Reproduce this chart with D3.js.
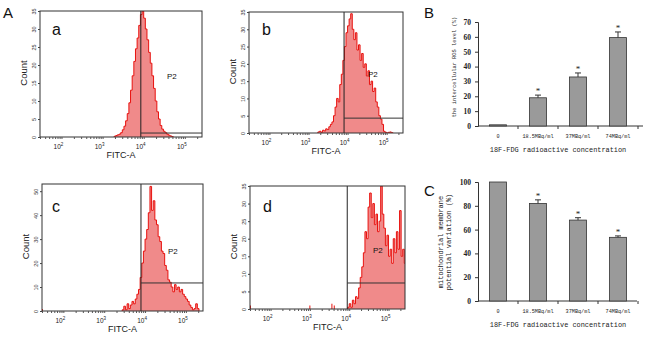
<!DOCTYPE html>
<html>
<head>
<meta charset="utf-8">
<script src="https://cdn.jsdelivr.net/npm/d3@7"></script>
<style>
  body { margin: 0; background: #fff; }
  svg { display: block; }
</style>
</head>
<body>
<div id="chart"></div>
<script>
// Flow cytometry histograms (A a-d) + ROS / MMP bar charts (B, C).

// --- histogram data: counts per bin, bins are 0.04 decades of FITC-A (log10) ---
const binStep = 0.04;
const histLabels = ["a", "b", "c", "d"];
const histStarts = [3.28, 3.24, 3.44, 3.96];
const aCounts = [0.2, 0.4, 0.6, 0.8, 1.2, 2, 3, 4.5, 6.5, 9.5, 13, 17, 21, 24.5, 27.5, 31, 34, 35,
  33, 30, 27, 23.5, 20.5, 17, 13.5, 10, 7, 5, 3.2, 2.2, 1.6, 1.2, 0.8, 0.5, 0.3, 0.1];
const bCounts = [0.3, 0.5, 0.2, 0.8, 0.6, 1.2, 1, 1.8, 2.5, 3.2, 5, 7.5, 10, 9, 14, 17, 21, 25, 29,
  31, 33, 34.5, 30, 27, 29, 24, 25.5, 21, 23, 19, 20, 16.5, 18, 14, 15, 12, 13, 9, 7.5, 5, 4,
  2.5, 0.5, 0.2, 0, 0.2, 0.3, 0.1];
const cCounts = [0.5, 2, 0.5, 3, 1, 2.5, 4, 3, 5, 7, 9, 14, 20, 25, 30, 34, 41, 52, 42, 46, 38, 36,
  31, 29, 25, 24, 19, 17, 13, 12, 10, 8, 11, 9, 10, 8, 9, 7, 6, 5, 4, 2.5, 1.5, 0.5, 1, 3, 1];
const dCounts = [0.5, 1.5, 0.5, 2.5, 1.5, 3.5, 3, 6, 9, 12, 16, 22, 20, 29, 33, 26, 30, 24, 27,
  22, 25, 35, 27, 23, 18, 21, 15, 17, 13, 20, 16, 22, 17, 28, 15, 17, 13];
const histCounts = [aCounts, bCounts, cCounts, dCounts];
// isolated single events [log10 FITC-A, count]
const histSpikes = [[], [], [[1.49, 0.8]], [[1.49, 1], [3.0, 1], [3.56, 1.5], [3.62, 1]]];
const histYMax = [35, 35, 53, 35];
const histYStep = [5, 5, 10, 5];
const gateLogs = [3.93, 3.91, 3.9, 3.95];
const gateCounts = [1.1, 4.3, 11.7, 7.4];
const decadeExps = [2, 3, 4, 5];

// --- bar chart data ---
const concCats = ["0", "18.5MBq/ml", "37MBq/ml", "74MBq/ml"];
const rosMeans = [0.8, 19, 33, 59.5];
const rosErrs = [0, 1.8, 2.7, 3.8];
const mmpMeans = [100, 82, 68, 53.5];
const mmpErrs = [0, 3, 2, 1.2];
const starred = [false, true, true, true];
const rosTicks = [0, 10, 20, 30, 40, 50, 60, 70];
const mmpTicks = [0, 20, 40, 60, 80, 100];

const svg = d3.select("#chart").append("svg").attr("width", 650).attr("height", 339);
const SANS = "'Liberation Sans', Arial, sans-serif";
const MONO = "'Liberation Mono', monospace";
const SERIF = "'Liberation Serif', serif";

// big figure letters
[["A", 3, 18], ["B", 424, 18], ["C", 424, 196]].forEach(([t, x, y]) => {
  svg.append("text").attr("x", x).attr("y", y).attr("font-family", SANS)
    .attr("font-size", 15).attr("fill", "#111").text(t);
});

// ---------- histograms ----------
const boxes = [
  { l: 40, r: 202, t: 11, b: 137, letter: [52, 35], p2: [167, 79] },
  { l: 249, r: 403, t: 12, b: 133, letter: [262, 35], p2: [368, 77] },
  { l: 42, r: 203, t: 184, b: 311, letter: [52, 212], p2: [168, 254] },
  { l: 250, r: 405, t: 186, b: 309, letter: [263, 212], p2: [373, 253] },
];

const logTicks = [];
for (let e = 1; e <= 5; e++) for (let m = 1; m <= 9; m++) {
  const v = m * Math.pow(10, e);
  if (v >= 30 && v <= 262144) logTicks.push(v);
}

histLabels.forEach((lab, i) => {
  const bx = boxes[i];
  const g = svg.append("g");
  const x = d3.scaleLog().domain([30, 262144]).range([bx.l, bx.r]);
  const y = d3.scaleLinear().domain([0, histYMax[i]]).range([bx.b, bx.t]);

  const clipId = "clip" + lab;
  g.append("clipPath").attr("id", clipId).append("rect")
    .attr("x", bx.l).attr("y", bx.t).attr("width", bx.r - bx.l).attr("height", bx.b - bx.t);

  const start = histStarts[i], counts = histCounts[i];
  const pts = [{ lg: start, c: 0 }]
    .concat(counts.map((c, k) => ({ lg: start + k * binStep, c })))
    .concat([{ lg: start + counts.length * binStep, c: 0 }]);

  const area = d3.area()
    .x(d => x(Math.pow(10, d.lg)))
    .y0(y(0)).y1(d => y(d.c))
    .curve(d3.curveStepAfter);
  const line = d3.line()
    .x(d => x(Math.pow(10, d.lg)))
    .y(d => y(d.c))
    .curve(d3.curveStepAfter);

  const hg = g.append("g").attr("clip-path", `url(#${clipId})`);
  hg.append("path").datum(pts).attr("d", area).attr("fill", "#f08a8a");
  hg.append("path").datum(pts).attr("d", line).attr("fill", "none")
    .attr("stroke", "#e8120f").attr("stroke-width", 1);
  hg.selectAll("line.spike").data(histSpikes[i]).join("line").attr("class", "spike")
    .attr("x1", d => x(Math.pow(10, d[0]))).attr("x2", d => x(Math.pow(10, d[0])))
    .attr("y1", y(0)).attr("y2", d => y(d[1]))
    .attr("stroke", "#e8120f").attr("stroke-width", 1);

  // gate P2
  const gx = x(Math.pow(10, gateLogs[i]));
  g.append("line").attr("x1", gx).attr("x2", gx).attr("y1", bx.t).attr("y2", bx.b)
    .attr("stroke", "#222").attr("stroke-width", 1);
  g.append("line").attr("x1", gx).attr("x2", bx.r).attr("y1", y(gateCounts[i])).attr("y2", y(gateCounts[i]))
    .attr("stroke", "#333").attr("stroke-width", 1);
  g.append("text").attr("x", bx.p2[0]).attr("y", bx.p2[1]).attr("font-family", SANS)
    .attr("font-size", 8).attr("fill", "#111").text("P2");

  // frame
  g.append("rect").attr("x", bx.l).attr("y", bx.t).attr("width", bx.r - bx.l).attr("height", bx.b - bx.t)
    .attr("fill", "none").attr("stroke", "#333").attr("stroke-width", 1);

  // x axis: log ticks, labels as 10^n
  const gx2 = g.append("g").attr("transform", `translate(0,${bx.b})`)
    .call(d3.axisBottom(x).tickValues(logTicks).tickSize(2).tickFormat(""));
  gx2.select(".domain").remove();
  gx2.selectAll(".tick line").attr("stroke", "#555");
  const xl = g.selectAll("text.dec").data(decadeExps).join("text").attr("class", "dec")
    .attr("x", d => x(Math.pow(10, d)) - 3).attr("y", bx.b + 12)
    .attr("text-anchor", "middle").attr("font-family", SANS).attr("font-size", 6.5).attr("fill", "#222");
  xl.append("tspan").text("10");
  xl.append("tspan").attr("dy", -3).attr("font-size", 4.5).text(d => d);

  // y axis: rotated tick labels
  const gy = g.append("g").attr("transform", `translate(${bx.l},0)`)
    .call(d3.axisLeft(y).tickValues(d3.range(0, histYMax[i] + 0.1, histYStep[i])).tickSize(2));
  gy.select(".domain").remove();
  gy.selectAll(".tick line").attr("stroke", "#444");
  gy.selectAll(".tick text")
    .attr("transform", "rotate(-90)").attr("x", 0).attr("y", -4).attr("dy", null)
    .attr("text-anchor", "middle").attr("font-family", SANS).attr("font-size", 5.5).attr("fill", "#333");

  g.append("text").attr("transform", `translate(${bx.l - 13},${(bx.t + bx.b) / 2 - 1}) rotate(-90)`)
    .attr("text-anchor", "middle").attr("font-family", SANS).attr("font-size", 9.5).attr("fill", "#222")
    .text("Count");
  g.append("text").attr("x", (bx.l + bx.r) / 2).attr("y", bx.b + 21)
    .attr("text-anchor", "middle").attr("font-family", SANS).attr("font-size", 9).attr("fill", "#222")
    .text("FITC-A");

  g.append("text").attr("x", bx.letter[0]).attr("y", bx.letter[1]).attr("font-family", SANS)
    .attr("font-size", 16).attr("fill", "#111").text(lab);
});

// ---------- bar charts ----------
function barChart(opt) {
  const g = svg.append("g");
  const x = d3.scaleBand().domain(concCats).range([478, 638]).paddingInner(0.575).paddingOuter(0.2875);
  const y = d3.scaleLinear().domain([0, opt.max]).range([opt.bottom, opt.top]);

  const gy = g.append("g").attr("transform", "translate(478,0)")
    .call(d3.axisLeft(y).tickValues(opt.ticks).tickSize(3).tickPadding(4));
  gy.select(".domain").attr("stroke", "#333");
  gy.selectAll(".tick line").attr("stroke", "#333");
  gy.selectAll(".tick text").attr("font-family", SERIF).attr("font-size", 7.5)
    .attr("font-weight", "bold").attr("fill", "#222");

  g.append("line").attr("x1", 478).attr("x2", opt.axisEnd).attr("y1", opt.bottom).attr("y2", opt.bottom)
    .attr("stroke", "#333").attr("stroke-width", 1);
  g.selectAll("line.btick").data(concCats).join("line").attr("class", "btick")
    .attr("x1", d => x(d) + x.bandwidth() / 2 + x.step() / 2)
    .attr("x2", d => x(d) + x.bandwidth() / 2 + x.step() / 2)
    .attr("y1", opt.bottom).attr("y2", opt.bottom + 3).attr("stroke", "#333");

  g.selectAll("rect.bar").data(concCats).join("rect").attr("class", "bar")
    .attr("x", d => x(d)).attr("width", x.bandwidth())
    .attr("y", (d, i) => y(opt.means[i]))
    .attr("height", (d, i) => y(0) - y(opt.means[i]))
    .attr("fill", "#9a9a9a").attr("stroke", "#333").attr("stroke-width", 0.8);

  const cx = d => x(d) + x.bandwidth() / 2;
  const topOf = d => { const i = concCats.indexOf(d); return y(opt.means[i] + opt.errs[i]); };
  const errs = concCats.filter((d, i) => opt.errs[i] > 0);
  g.selectAll("line.err").data(errs).join("line").attr("class", "err")
    .attr("x1", cx).attr("x2", cx)
    .attr("y1", d => y(opt.means[concCats.indexOf(d)]))
    .attr("y2", topOf)
    .attr("stroke", "#333");
  g.selectAll("line.cap").data(errs).join("line").attr("class", "cap")
    .attr("x1", d => cx(d) - 3).attr("x2", d => cx(d) + 3)
    .attr("y1", topOf).attr("y2", topOf)
    .attr("stroke", "#333");
  g.selectAll("text.star").data(concCats.filter((d, i) => starred[i])).join("text").attr("class", "star")
    .attr("x", cx)
    .attr("y", d => topOf(d) - 1)
    .attr("text-anchor", "middle").attr("font-family", SERIF).attr("font-size", 9).attr("fill", "#222")
    .text("*");

  g.selectAll("text.cat").data(concCats).join("text").attr("class", "cat")
    .attr("x", cx).attr("y", opt.bottom + 12)
    .attr("text-anchor", "middle").attr("font-family", MONO).attr("font-size", 5.2).attr("fill", "#222")
    .text(d => d);
  g.append("text").attr("x", 558).attr("y", opt.bottom + 26)
    .attr("text-anchor", "middle").attr("font-family", MONO).attr("font-size", 6.9).attr("fill", "#222")
    .text("18F-FDG radioactive concentration");

  opt.yTitle.forEach((t, k) => {
    g.append("text")
      .attr("transform", `translate(${opt.yTitleX + k * 8},${opt.yTitleY}) rotate(-90)`)
      .attr("text-anchor", "middle").attr("font-family", MONO).attr("font-size", opt.yTitleSize)
      .attr("fill", "#222").text(t);
  });
}

barChart({ max: 70, top: 22, bottom: 126, axisEnd: 643, ticks: rosTicks, means: rosMeans, errs: rosErrs,
  yTitle: ["the intercellular ROS level (%)"], yTitleX: 456, yTitleY: 67, yTitleSize: 5.4 });
barChart({ max: 100, top: 182, bottom: 301, axisEnd: 637, ticks: mmpTicks, means: mmpMeans, errs: mmpErrs,
  yTitle: ["mitochondrial membrane", "potential variation (%)"], yTitleX: 443, yTitleY: 242, yTitleSize: 7 });
</script>
</body>
</html>
